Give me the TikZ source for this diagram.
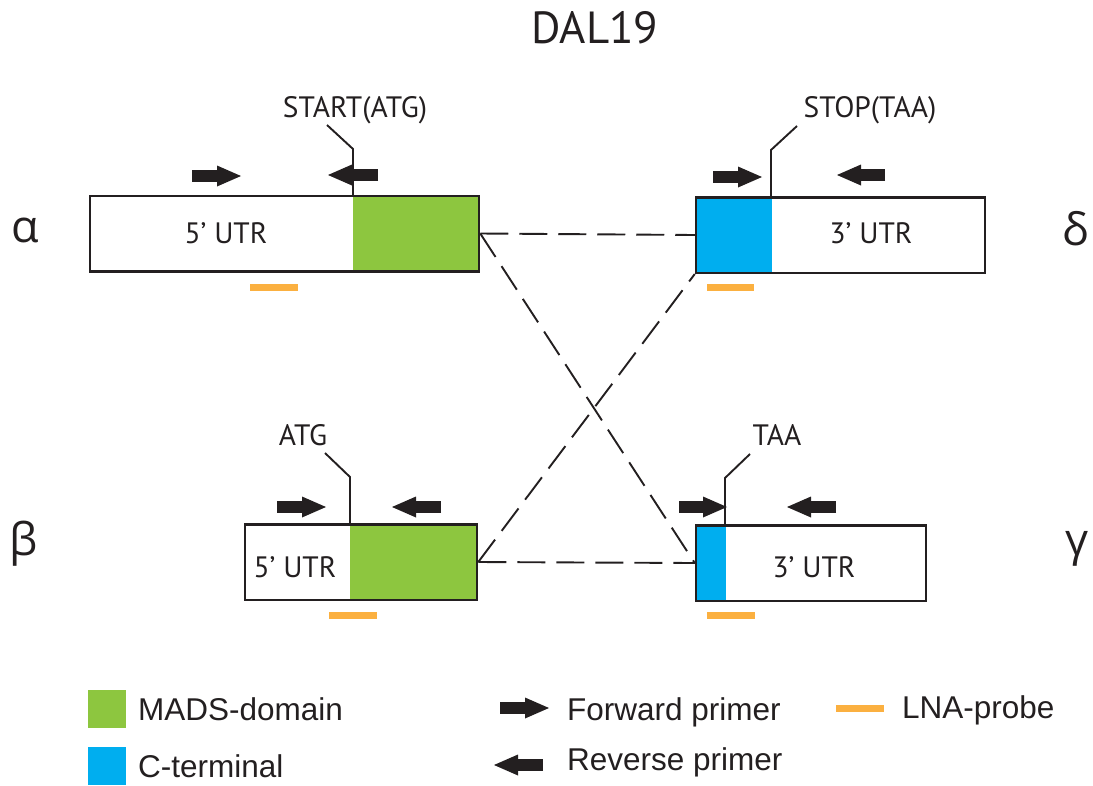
\documentclass[tikz,border=0pt]{standalone}
\usepackage{fontspec}
\setmainfont{PT Sans}
\newfontfamily\greekfont{Open Sans}
\newfontfamily\legendfont{Liberation Sans}
\usetikzlibrary{arrows.meta}
\definecolor{mads}{RGB}{141,198,63}
\definecolor{cterm}{RGB}{0,174,239}
\definecolor{lna}{RGB}{251,176,64}
\definecolor{ink}{RGB}{35,31,32}
\tikzset{
  genebox/.style={draw=ink, line width=2.5pt, inner sep=0pt, minimum height=75.5pt},
  junction/.style={draw=ink, line width=1.9pt, dash pattern=on 28pt off 11pt},
  leader/.style={draw=ink, line width=1.9pt},
  primer/.style={draw=ink, line width=12pt, -{Triangle[length=24pt,width=21pt,line width=0pt]}},
  probe/.style={draw=lna, line width=7pt},
  lbl/.style={text=ink, font=\fontsize{29.5}{32}\selectfont, anchor=base, inner sep=0pt},
  greek/.style={text=ink, font=\greekfont\fontsize{45}{48}\selectfont, anchor=base, inner sep=0pt},
  legsq/.style={minimum size=38pt, inner sep=0pt},
  legtxt/.style={text=ink, font=\legendfont\fontsize{31.5}{34}\selectfont, anchor=base west, inner sep=0pt}
}
\begin{document}
\begin{tikzpicture}[x=1pt,y=-1pt]
  \useasboundingbox (0,0) rectangle (1093,785);
  \node[lbl, font=\fontsize{45}{50}\selectfont] (title) at (595,43) {DAL19};

  % coloured domains first, frames drawn on top
  \fill[mads] (353,196) rectangle (479,271);
  \fill[cterm] (696,197) rectangle (772,273);
  \fill[mads] (350,524) rectangle (477,600);
  \fill[cterm] (696,525) rectangle (726,601);

  \node[genebox, minimum width=389pt] (alpha) at (284.5,233.5) {};
  \node[genebox, minimum width=289pt] (delta) at (840.5,235) {};
  \node[genebox, minimum width=232pt] (beta) at (361,562) {};
  \node[genebox, minimum width=230pt] (gamma) at (811,563) {};

  \draw[junction] (alpha.east) -- (delta.west);
  \draw[junction] (alpha.east) -- (gamma.west);
  \draw[junction] (beta.east) -- (delta.south west);
  \draw[junction] (beta.east) -- (gamma.west);

  % start/stop leaders
  \foreach \x/\y/\dx in {353/196/-26, 771/197/26, 350/524/-25, 725/525/25}
    \draw[leader] (\x,\y) -- ++(0,-47) -- ++(\dx,-24);

  % primers: tail/tip/height
  \foreach \a/\b/\y in {192/241/176, 378/328/175, 713/762/177, 885/837/175,
                        277/326/507, 441/392/507, 679/727/507, 836/787/507}
    \draw[primer] (\a,\y) -- (\b,\y);

  % probes
  \foreach \a/\b/\y in {250/298/287, 707/754/287, 329/377/615, 707/755/615}
    \draw[probe] (\a,\y) -- (\b,\y);

  \node[lbl] (utrA) at (226,243) {5' UTR};
  \node[lbl] (utrD) at (871,243) {3' UTR};
  \node[lbl] (utrB) at (295,577) {5' UTR};
  \node[lbl] (utrG) at (814,577) {3' UTR};
  \node[lbl] (startA) at (355,117) {START(ATG)};
  \node[lbl] (stopD) at (870,117) {STOP(TAA)};
  \node[lbl] (startB) at (303,445) {ATG};
  \node[lbl] (stopG) at (777,445) {TAA};

  \node[greek] (ga) at (25,242) {α};
  \node[greek] (gd) at (1076,245) {δ};
  \node[greek] (gb) at (24,555) {β};
  \node[greek] (gg) at (1077,555) {γ};

  % legend
  \node[legsq, fill=mads] (kmads) at (107,709) {};
  \node[legsq, fill=cterm] (kcterm) at (107,766) {};
  \node[legtxt] (tmads) at (138,720) {MADS-domain};
  \node[legtxt] (tcterm) at (138,777) {C-terminal};
  \draw[primer] (500,708) -- (549,708);
  \draw[primer] (543,765) -- (494,765);
  \draw[probe] (836,708) -- (884,708);
  \node[legtxt] (tfwd) at (567,720) {Forward primer};
  \node[legtxt] (trev) at (567,770) {Reverse primer};
  \node[legtxt] (tlna) at (902,718) {LNA-probe};
\end{tikzpicture}
\end{document}
